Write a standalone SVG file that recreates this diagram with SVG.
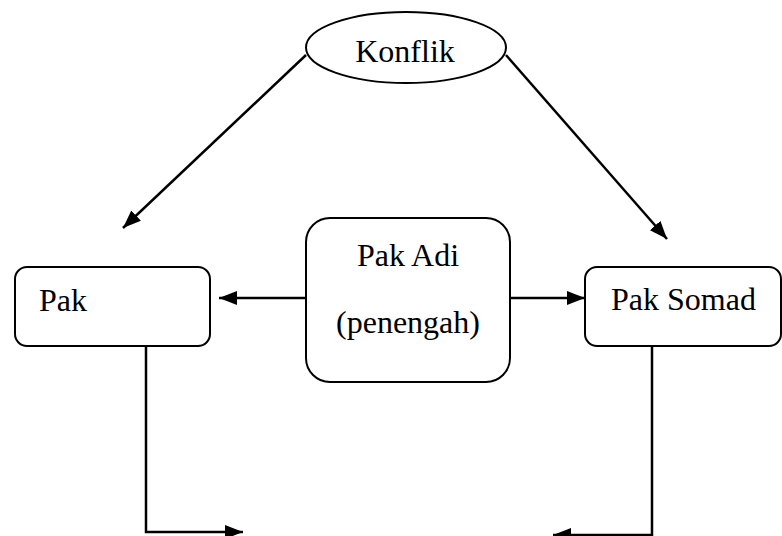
<svg xmlns="http://www.w3.org/2000/svg" width="782" height="536" viewBox="0 0 782 536">
<style>
.box{fill:#fff;stroke:#000;stroke-width:2}
.lbl{font-family:"Liberation Serif","Times New Roman",serif;font-size:32px;fill:#000}
.c{fill:none;stroke:#000;stroke-width:2.5}
</style>
<defs>
<marker id="ah" markerUnits="userSpaceOnUse" markerWidth="18" markerHeight="14" refX="18" refY="7" orient="auto">
<path d="M0,0 L18,7 L0,14 z" fill="#000"/>
</marker>
</defs>
<rect width="782" height="536" fill="#fff"/>
<g id="connectors">
<line class="c" x1="306" y1="55" x2="123" y2="228" marker-end="url(#ah)"/>
<line class="c" x1="506" y1="55" x2="667" y2="239" marker-end="url(#ah)"/>
<line class="c" x1="306" y1="298" x2="219" y2="298" marker-end="url(#ah)"/>
<line class="c" x1="510" y1="298" x2="585" y2="298" marker-end="url(#ah)"/>
<polyline class="c" points="146,346 146,532 243,532" marker-end="url(#ah)"/>
<polyline class="c" points="652,346 652,535 553,535" marker-end="url(#ah)"/>
</g>
<g id="konflik">
<ellipse class="box" cx="406" cy="47.5" rx="100" ry="35.5"/>
<text class="lbl" x="405" y="62" text-anchor="middle">Konflik</text>
</g>
<g id="pak">
<rect class="box" x="15" y="267" width="195" height="79" rx="12"/>
<text class="lbl" x="39" y="311">Pak</text>
</g>
<g id="pak-adi">
<rect class="box" x="306" y="218" width="204" height="164" rx="24"/>
<text class="lbl" x="408" y="266" text-anchor="middle">Pak Adi</text>
<text class="lbl" x="408" y="333" text-anchor="middle">(penengah)</text>
</g>
<g id="pak-somad">
<rect class="box" x="585" y="267" width="196" height="79" rx="12"/>
<text class="lbl" x="611" y="310">Pak Somad</text>
</g>
</svg>
